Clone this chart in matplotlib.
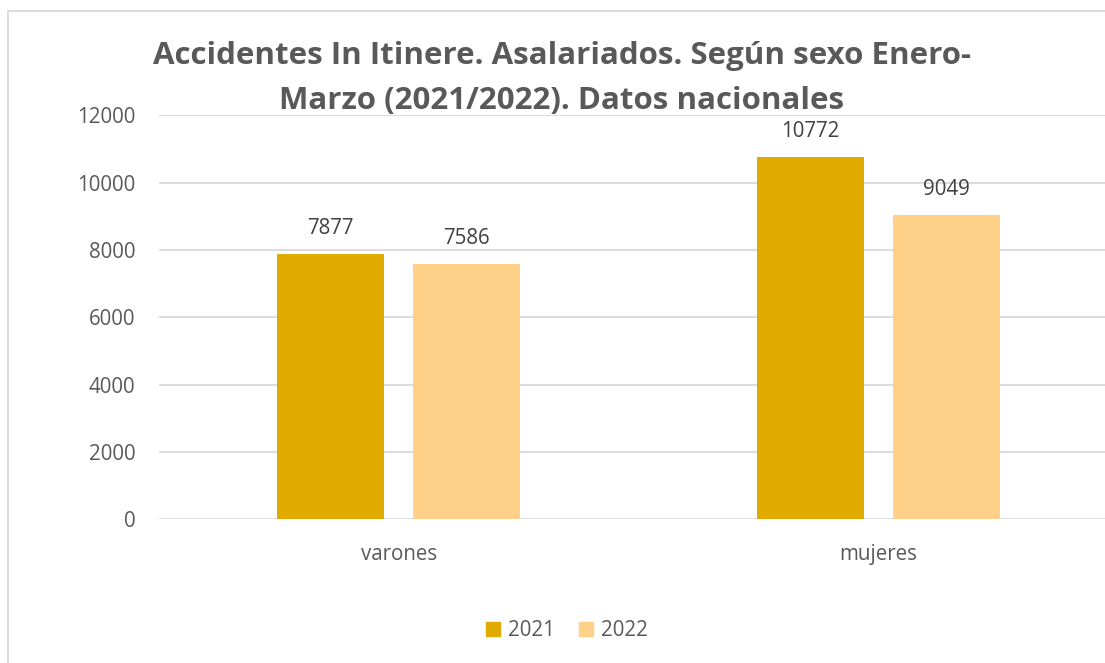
import numpy as np
import matplotlib
matplotlib.use('Agg')
import matplotlib.pyplot as plt
from matplotlib.patches import Rectangle, Patch

# datos
categorias = ['varones', 'mujeres']
anios = ['2021', '2022']
valores_2021 = [7877, 10772]
valores_2022 = [7586, 9049]
titulo = ['Accidentes In Itinere. Asalariados. Según sexo Enero-',
          'Marzo (2021/2022). Datos nacionales']
colores = ['#E1AA00', '#FFD088']
gris_texto = '#595959'

plt.rcParams['font.family'] = ['Open Sans', 'DejaVu Sans']

fig = plt.figure(figsize=(11.05, 6.63), dpi=100)
W, H = 1105, 663

# marco del gráfico (recortado a la derecha y abajo)
fig.patches.append(Rectangle((8 / W, -0.1), 1.2, 1 - 11 / H + 0.1, transform=fig.transFigure,
                             fill=False, edgecolor='#D9D9D9', linewidth=1.3))

ax = fig.add_axes([159 / W, (H - 519.3) / H, 959 / W, 403.8 / H])

x = np.arange(len(categorias))
ancho = 0.223
desp = 0.142
b1 = ax.bar(x - desp, valores_2021, ancho, color=colores[0], label=anios[0], zorder=3)
b2 = ax.bar(x + desp, valores_2022, ancho, color=colores[1], label=anios[1], zorder=3)

for barras in (b1, b2):
    for b in barras:
        ax.annotate(str(int(b.get_height())), (b.get_x() + b.get_width() / 2, b.get_height()),
                    xytext=(0, 11), textcoords='offset points', ha='center', va='bottom',
                    fontsize=14.8, color='#404040')

ax.set_xlim(-0.5, 1.5)
ax.set_ylim(0, 12000)
ax.set_yticks(np.arange(0, 12001, 2000))
ax.set_xticks(x)
ax.set_xticklabels(categorias)
ax.grid(axis='y', color='#D9D9D9', linewidth=1.3, zorder=0)
for s in ax.spines.values():
    s.set_visible(False)
ax.tick_params(axis='both', length=0, labelsize=14.8, labelcolor=gris_texto)
ax.tick_params(axis='y', pad=17)
ax.tick_params(axis='x', pad=18)

# título en dos líneas
for linea, yp in zip(titulo, (56, 101)):
    fig.text(562 / W, 1 - yp / H, linea, ha='center', va='center', fontsize=22.5,
             fontweight='bold', color=gris_texto)

handles = [Patch(color=colores[0]), Patch(color=colores[1])]
fig.legend(handles, anios, loc='center', bbox_to_anchor=(567 / W, 1 - 631 / H), ncol=2, frameon=False,
           fontsize=14.8, labelcolor=gris_texto, handlelength=0.65, handleheight=0.65, handletextpad=0.4,
           columnspacing=1.2)

fig.savefig('out.png', dpi=100)
